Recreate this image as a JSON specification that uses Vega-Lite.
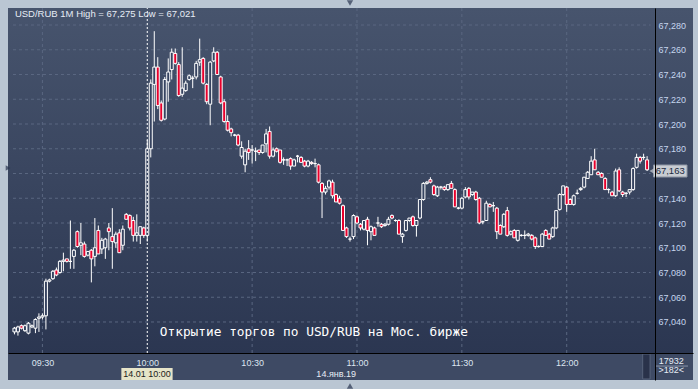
{
 "$schema": "https://vega.github.io/schema/vega-lite/v6.json",
 "width": 685, "height": 372,
 "autosize": {"type": "none"},
 "padding": {"left": 8, "top": 8, "right": 5, "bottom": 9},
 "background": "#bac6d3",
 "config": {
  "view": {"stroke": null, "fill": {"gradient": "linear", "x1": 0, "y1": 0, "x2": 0, "y2": 1, "stops": [{"offset": 0, "color": "#47546d"}, {"offset": 1, "color": "#29344f"}]}},
  "text": {"font": "Liberation Sans"}
 },
 "resolve": {"axis": {"x": "independent", "y": "independent"}},
 "data": {"name": "candles", "format": {"parse": {"t": "date:'%H:%M'"}}, "values": [
{"t":"09:22","o":67.032,"h":67.036,"l":67.030,"c":67.035},
{"t":"09:23","o":67.032,"h":67.037,"l":67.029,"c":67.036},
{"t":"09:24","o":67.037,"h":67.038,"l":67.034,"c":67.035},
{"t":"09:25","o":67.033,"h":67.038,"l":67.032,"c":67.037},
{"t":"09:26","o":67.031,"h":67.040,"l":67.030,"c":67.039},
{"t":"09:27","o":67.036,"h":67.038,"l":67.035,"c":67.037},
{"t":"09:28","o":67.035,"h":67.043,"l":67.031,"c":67.042},
{"t":"09:29","o":67.043,"h":67.047,"l":67.032,"c":67.044},
{"t":"09:30","o":67.044,"h":67.047,"l":67.042,"c":67.045},
{"t":"09:31","o":67.045,"h":67.075,"l":67.034,"c":67.073},
{"t":"09:32","o":67.073,"h":67.075,"l":67.072,"c":67.074},
{"t":"09:33","o":67.075,"h":67.082,"l":67.074,"c":67.081},
{"t":"09:34","o":67.082,"h":67.084,"l":67.077,"c":67.078},
{"t":"09:35","o":67.080,"h":67.090,"l":67.079,"c":67.089},
{"t":"09:36","o":67.089,"h":67.096,"l":67.081,"c":67.090},
{"t":"09:37","o":67.091,"h":67.091,"l":67.088,"c":67.089},
{"t":"09:38","o":67.089,"h":67.122,"l":67.083,"c":67.089},
{"t":"09:39","o":67.093,"h":67.099,"l":67.083,"c":67.098},
{"t":"09:40","o":67.113,"h":67.114,"l":67.100,"c":67.101},
{"t":"09:41","o":67.102,"h":67.120,"l":67.094,"c":67.104},
{"t":"09:42","o":67.103,"h":67.105,"l":67.092,"c":67.093},
{"t":"09:43","o":67.094,"h":67.097,"l":67.093,"c":67.097},
{"t":"09:44","o":67.098,"h":67.099,"l":67.072,"c":67.091},
{"t":"09:45","o":67.093,"h":67.124,"l":67.085,"c":67.100},
{"t":"09:46","o":67.114,"h":67.118,"l":67.095,"c":67.095},
{"t":"09:47","o":67.099,"h":67.108,"l":67.095,"c":67.106},
{"t":"09:48","o":67.100,"h":67.108,"l":67.091,"c":67.107},
{"t":"09:49","o":67.116,"h":67.120,"l":67.098,"c":67.113},
{"t":"09:50","o":67.109,"h":67.132,"l":67.083,"c":67.105},
{"t":"09:51","o":67.104,"h":67.113,"l":67.100,"c":67.111},
{"t":"09:52","o":67.112,"h":67.115,"l":67.096,"c":67.096},
{"t":"09:53","o":67.102,"h":67.118,"l":67.098,"c":67.115},
{"t":"09:54","o":67.127,"h":67.128,"l":67.123,"c":67.123},
{"t":"09:55","o":67.126,"h":67.127,"l":67.114,"c":67.116},
{"t":"09:56","o":67.122,"h":67.125,"l":67.105,"c":67.110},
{"t":"09:57","o":67.110,"h":67.127,"l":67.105,"c":67.112},
{"t":"09:58","o":67.110,"h":67.117,"l":67.103,"c":67.117},
{"t":"09:59","o":67.116,"h":67.117,"l":67.108,"c":67.110},
{"t":"10:00","o":67.110,"h":67.187,"l":67.105,"c":67.180},
{"t":"10:01","o":67.180,"h":67.236,"l":67.173,"c":67.233},
{"t":"10:02","o":67.232,"h":67.275,"l":67.202,"c":67.246},
{"t":"10:03","o":67.246,"h":67.254,"l":67.212,"c":67.215},
{"t":"10:04","o":67.217,"h":67.219,"l":67.202,"c":67.203},
{"t":"10:05","o":67.204,"h":67.238,"l":67.203,"c":67.236},
{"t":"10:06","o":67.234,"h":67.253,"l":67.218,"c":67.242},
{"t":"10:07","o":67.244,"h":67.261,"l":67.236,"c":67.258},
{"t":"10:08","o":67.257,"h":67.261,"l":67.248,"c":67.249},
{"t":"10:09","o":67.248,"h":67.250,"l":67.222,"c":67.223},
{"t":"10:10","o":67.224,"h":67.262,"l":67.222,"c":67.229},
{"t":"10:11","o":67.227,"h":67.235,"l":67.226,"c":67.233},
{"t":"10:12","o":67.236,"h":67.240,"l":67.235,"c":67.239},
{"t":"10:13","o":67.237,"h":67.239,"l":67.229,"c":67.237},
{"t":"10:14","o":67.238,"h":67.251,"l":67.236,"c":67.249},
{"t":"10:15","o":67.250,"h":67.269,"l":67.247,"c":67.252},
{"t":"10:16","o":67.253,"h":67.254,"l":67.232,"c":67.233},
{"t":"10:17","o":67.232,"h":67.233,"l":67.216,"c":67.218},
{"t":"10:18","o":67.216,"h":67.251,"l":67.199,"c":67.250},
{"t":"10:19","o":67.251,"h":67.262,"l":67.250,"c":67.258},
{"t":"10:20","o":67.258,"h":67.259,"l":67.240,"c":67.240},
{"t":"10:21","o":67.238,"h":67.239,"l":67.216,"c":67.217},
{"t":"10:22","o":67.218,"h":67.220,"l":67.201,"c":67.202},
{"t":"10:23","o":67.202,"h":67.207,"l":67.194,"c":67.195},
{"t":"10:24","o":67.196,"h":67.197,"l":67.190,"c":67.193},
{"t":"10:25","o":67.191,"h":67.192,"l":67.190,"c":67.191},
{"t":"10:26","o":67.191,"h":67.192,"l":67.182,"c":67.183},
{"t":"10:27","o":67.174,"h":67.186,"l":67.172,"c":67.181},
{"t":"10:28","o":67.167,"h":67.180,"l":67.161,"c":67.178},
{"t":"10:29","o":67.180,"h":67.187,"l":67.171,"c":67.177},
{"t":"10:30","o":67.179,"h":67.183,"l":67.168,"c":67.179},
{"t":"10:31","o":67.178,"h":67.181,"l":67.170,"c":67.178},
{"t":"10:32","o":67.179,"h":67.179,"l":67.175,"c":67.177},
{"t":"10:33","o":67.177,"h":67.183,"l":67.176,"c":67.183},
{"t":"10:34","o":67.184,"h":67.196,"l":67.177,"c":67.192},
{"t":"10:35","o":67.194,"h":67.198,"l":67.172,"c":67.174},
{"t":"10:36","o":67.174,"h":67.181,"l":67.173,"c":67.179},
{"t":"10:37","o":67.180,"h":67.181,"l":67.177,"c":67.178},
{"t":"10:38","o":67.179,"h":67.179,"l":67.168,"c":67.169},
{"t":"10:39","o":67.171,"h":67.173,"l":67.167,"c":67.171},
{"t":"10:40","o":67.171,"h":67.172,"l":67.166,"c":67.171},
{"t":"10:41","o":67.172,"h":67.173,"l":67.163,"c":67.166},
{"t":"10:42","o":67.166,"h":67.172,"l":67.166,"c":67.171},
{"t":"10:43","o":67.174,"h":67.175,"l":67.169,"c":67.174},
{"t":"10:44","o":67.173,"h":67.174,"l":67.169,"c":67.169},
{"t":"10:45","o":67.170,"h":67.171,"l":67.165,"c":67.166},
{"t":"10:46","o":67.166,"h":67.171,"l":67.165,"c":67.170},
{"t":"10:47","o":67.169,"h":67.170,"l":67.167,"c":67.168},
{"t":"10:48","o":67.168,"h":67.172,"l":67.165,"c":67.168},
{"t":"10:49","o":67.167,"h":67.168,"l":67.152,"c":67.153},
{"t":"10:50","o":67.152,"h":67.153,"l":67.124,"c":67.145},
{"t":"10:51","o":67.145,"h":67.150,"l":67.143,"c":67.148},
{"t":"10:52","o":67.149,"h":67.155,"l":67.147,"c":67.154},
{"t":"10:53","o":67.153,"h":67.155,"l":67.140,"c":67.142},
{"t":"10:54","o":67.143,"h":67.144,"l":67.137,"c":67.137},
{"t":"10:55","o":67.140,"h":67.142,"l":67.135,"c":67.136},
{"t":"10:56","o":67.134,"h":67.135,"l":67.114,"c":67.114},
{"t":"10:57","o":67.116,"h":67.117,"l":67.108,"c":67.109},
{"t":"10:58","o":67.107,"h":67.109,"l":67.105,"c":67.107},
{"t":"10:59","o":67.109,"h":67.127,"l":67.107,"c":67.126},
{"t":"11:00","o":67.125,"h":67.126,"l":67.119,"c":67.120},
{"t":"11:01","o":67.119,"h":67.120,"l":67.114,"c":67.116},
{"t":"11:02","o":67.115,"h":67.122,"l":67.114,"c":67.122},
{"t":"11:03","o":67.123,"h":67.125,"l":67.102,"c":67.114},
{"t":"11:04","o":67.113,"h":67.118,"l":67.106,"c":67.117},
{"t":"11:05","o":67.116,"h":67.117,"l":67.110,"c":67.110},
{"t":"11:06","o":67.120,"h":67.125,"l":67.117,"c":67.120},
{"t":"11:07","o":67.119,"h":67.120,"l":67.116,"c":67.117},
{"t":"11:08","o":67.118,"h":67.120,"l":67.117,"c":67.119},
{"t":"11:09","o":67.119,"h":67.125,"l":67.118,"c":67.123},
{"t":"11:10","o":67.126,"h":67.127,"l":67.123,"c":67.124},
{"t":"11:11","o":67.122,"h":67.123,"l":67.121,"c":67.122},
{"t":"11:12","o":67.122,"h":67.123,"l":67.111,"c":67.111},
{"t":"11:13","o":67.109,"h":67.112,"l":67.104,"c":67.111},
{"t":"11:14","o":67.114,"h":67.122,"l":67.113,"c":67.122},
{"t":"11:15","o":67.122,"h":67.124,"l":67.121,"c":67.124},
{"t":"11:16","o":67.125,"h":67.126,"l":67.117,"c":67.118},
{"t":"11:17","o":67.118,"h":67.122,"l":67.109,"c":67.122},
{"t":"11:18","o":67.124,"h":67.139,"l":67.123,"c":67.139},
{"t":"11:19","o":67.139,"h":67.153,"l":67.138,"c":67.152},
{"t":"11:20","o":67.152,"h":67.154,"l":67.151,"c":67.153},
{"t":"11:21","o":67.155,"h":67.157,"l":67.152,"c":67.153},
{"t":"11:22","o":67.150,"h":67.151,"l":67.142,"c":67.143},
{"t":"11:23","o":67.142,"h":67.150,"l":67.141,"c":67.149},
{"t":"11:24","o":67.149,"h":67.150,"l":67.147,"c":67.149},
{"t":"11:25","o":67.149,"h":67.150,"l":67.146,"c":67.147},
{"t":"11:26","o":67.147,"h":67.151,"l":67.146,"c":67.151},
{"t":"11:27","o":67.152,"h":67.154,"l":67.148,"c":67.148},
{"t":"11:28","o":67.147,"h":67.148,"l":67.133,"c":67.133},
{"t":"11:29","o":67.132,"h":67.133,"l":67.131,"c":67.132},
{"t":"11:30","o":67.132,"h":67.141,"l":67.131,"c":67.140},
{"t":"11:31","o":67.141,"h":67.149,"l":67.140,"c":67.147},
{"t":"11:32","o":67.148,"h":67.149,"l":67.139,"c":67.141},
{"t":"11:33","o":67.143,"h":67.145,"l":67.142,"c":67.145},
{"t":"11:34","o":67.145,"h":67.146,"l":67.138,"c":67.139},
{"t":"11:35","o":67.140,"h":67.141,"l":67.119,"c":67.120},
{"t":"11:36","o":67.121,"h":67.122,"l":67.119,"c":67.121},
{"t":"11:37","o":67.122,"h":67.138,"l":67.122,"c":67.136},
{"t":"11:38","o":67.135,"h":67.136,"l":67.133,"c":67.133},
{"t":"11:39","o":67.134,"h":67.137,"l":67.129,"c":67.134},
{"t":"11:40","o":67.132,"h":67.133,"l":67.107,"c":67.113},
{"t":"11:41","o":67.118,"h":67.119,"l":67.111,"c":67.111},
{"t":"11:42","o":67.117,"h":67.128,"l":67.116,"c":67.127},
{"t":"11:43","o":67.130,"h":67.133,"l":67.109,"c":67.110},
{"t":"11:44","o":67.111,"h":67.114,"l":67.110,"c":67.113},
{"t":"11:45","o":67.114,"h":67.115,"l":67.108,"c":67.108},
{"t":"11:46","o":67.106,"h":67.114,"l":67.105,"c":67.114},
{"t":"11:47","o":67.110,"h":67.111,"l":67.109,"c":67.110},
{"t":"11:48","o":67.110,"h":67.114,"l":67.107,"c":67.110},
{"t":"11:49","o":67.110,"h":67.112,"l":67.109,"c":67.111},
{"t":"11:50","o":67.110,"h":67.111,"l":67.106,"c":67.107},
{"t":"11:51","o":67.108,"h":67.109,"l":67.099,"c":67.101},
{"t":"11:52","o":67.101,"h":67.102,"l":67.100,"c":67.101},
{"t":"11:53","o":67.101,"h":67.112,"l":67.101,"c":67.111},
{"t":"11:54","o":67.114,"h":67.115,"l":67.110,"c":67.110},
{"t":"11:55","o":67.111,"h":67.112,"l":67.107,"c":67.107},
{"t":"11:56","o":67.109,"h":67.117,"l":67.108,"c":67.116},
{"t":"11:57","o":67.116,"h":67.130,"l":67.115,"c":67.130},
{"t":"11:58","o":67.131,"h":67.144,"l":67.130,"c":67.143},
{"t":"11:59","o":67.143,"h":67.150,"l":67.142,"c":67.150},
{"t":"12:00","o":67.149,"h":67.150,"l":67.129,"c":67.135},
{"t":"12:01","o":67.139,"h":67.140,"l":67.135,"c":67.135},
{"t":"12:02","o":67.135,"h":67.143,"l":67.134,"c":67.142},
{"t":"12:03","o":67.144,"h":67.147,"l":67.143,"c":67.144},
{"t":"12:04","o":67.147,"h":67.149,"l":67.146,"c":67.148},
{"t":"12:05","o":67.149,"h":67.157,"l":67.148,"c":67.157},
{"t":"12:06","o":67.156,"h":67.162,"l":67.156,"c":67.161},
{"t":"12:07","o":67.159,"h":67.174,"l":67.159,"c":67.170},
{"t":"12:08","o":67.171,"h":67.180,"l":67.163,"c":67.163},
{"t":"12:09","o":67.161,"h":67.162,"l":67.159,"c":67.159},
{"t":"12:10","o":67.160,"h":67.161,"l":67.157,"c":67.157},
{"t":"12:11","o":67.156,"h":67.157,"l":67.147,"c":67.147},
{"t":"12:12","o":67.147,"h":67.148,"l":67.144,"c":67.147},
{"t":"12:13","o":67.145,"h":67.146,"l":67.142,"c":67.142},
{"t":"12:14","o":67.142,"h":67.164,"l":67.141,"c":67.162},
{"t":"12:15","o":67.163,"h":67.165,"l":67.145,"c":67.146},
{"t":"12:16","o":67.145,"h":67.146,"l":67.141,"c":67.143},
{"t":"12:17","o":67.144,"h":67.145,"l":67.141,"c":67.144},
{"t":"12:18","o":67.145,"h":67.147,"l":67.143,"c":67.147},
{"t":"12:19","o":67.147,"h":67.165,"l":67.146,"c":67.164},
{"t":"12:20","o":67.165,"h":67.176,"l":67.164,"c":67.173},
{"t":"12:21","o":67.173,"h":67.174,"l":67.168,"c":67.170},
{"t":"12:22","o":67.173,"h":67.176,"l":67.171,"c":67.173},
{"t":"12:23","o":67.171,"h":67.174,"l":67.162,"c":67.163}
 ]},
 "layer": [
  {
   "data": {"values": [{}]},
   "mark": {"type": "rect", "color": "#3e4a64"},
   "encoding": {
    "y": {"datum": 67.01495, "type": "quantitative", "scale": {"domain": [66.99313, 67.29374], "zero": false, "nice": false}, "axis": null},
    "y2": {"datum": 66.99313}
   }
  },
  {
   "data": {"values": [{}]},
   "mark": {"type": "rect", "color": "#29324a", "stroke": "#56627a", "strokeWidth": 1},
   "encoding": {
    "x": {"datum": {"year": 1900, "month": 1, "date": 1, "hours": 12, "minutes": 21, "seconds": 44}, "type": "temporal", "scale": {"domain": [{"year": 1900, "month": 1, "date": 1, "hours": 9, "minutes": 21, "seconds": 35}, {"year": 1900, "month": 1, "date": 1, "hours": 12, "minutes": 34, "seconds": 42}]}, "axis": null},
    "x2": {"datum": {"year": 1900, "month": 1, "date": 1, "hours": 12, "minutes": 23, "seconds": 51}},
    "y": {"datum": 67.01414, "type": "quantitative", "scale": {"domain": [66.99313, 67.29374], "zero": false, "nice": false}, "axis": null},
    "y2": {"datum": 66.99394}
   }
  },
  {
   "data": {"values": [{"v":67.04},{"v":67.06},{"v":67.08},{"v":67.10},{"v":67.12},{"v":67.14},{"v":67.16},{"v":67.18},{"v":67.20},{"v":67.22},{"v":67.24},{"v":67.26},{"v":67.28}]},
   "mark": {"type": "rule", "color": "#5a6781", "strokeDash": [3, 3], "strokeWidth": 1},
   "encoding": {
    "y": {"field": "v", "type": "quantitative", "scale": {"domain": [66.99313, 67.29374], "zero": false, "nice": false}, "axis": null},
    "x": {"datum": {"year": 1900, "month": 1, "date": 1, "hours": 9, "minutes": 21, "seconds": 35}, "type": "temporal", "scale": {"domain": [{"year": 1900, "month": 1, "date": 1, "hours": 9, "minutes": 21, "seconds": 35}, {"year": 1900, "month": 1, "date": 1, "hours": 12, "minutes": 34, "seconds": 42}]}, "axis": null},
    "x2": {"datum": {"year": 1900, "month": 1, "date": 1, "hours": 12, "minutes": 24, "seconds": 0}}
   }
  },
  {
   "data": {"values": [{"g":"09:30"},{"g":"10:30"},{"g":"11:00"},{"g":"11:30"},{"g":"12:00"}], "format": {"parse": {"g": "date:'%H:%M'"}}},
   "mark": {"type": "rule", "color": "#5a6781", "strokeDash": [3, 3], "strokeWidth": 1},
   "encoding": {
    "x": {"field": "g", "type": "temporal", "scale": {"domain": [{"year": 1900, "month": 1, "date": 1, "hours": 9, "minutes": 21, "seconds": 35}, {"year": 1900, "month": 1, "date": 1, "hours": 12, "minutes": 34, "seconds": 42}]}, "axis": null},
    "y": {"datum": 67.01495, "type": "quantitative", "scale": {"domain": [66.99313, 67.29374], "zero": false, "nice": false}, "axis": null},
    "y2": {"datum": 67.29374}
   }
  },
  {
   "mark": {"type": "rule", "color": "#ffffff", "strokeWidth": 1},
   "encoding": {
    "x": {"field": "t", "type": "temporal", "scale": {"domain": [{"year": 1900, "month": 1, "date": 1, "hours": 9, "minutes": 21, "seconds": 35}, {"year": 1900, "month": 1, "date": 1, "hours": 12, "minutes": 34, "seconds": 42}]}, "axis": null},
    "y": {"field": "l", "type": "quantitative", "scale": {"domain": [66.99313, 67.29374], "zero": false, "nice": false}, "axis": null},
    "y2": {"field": "h"}
   }
  },
  {
   "mark": {"type": "bar", "width": 3, "stroke": "#ffffff", "strokeWidth": 1},
   "encoding": {
    "x": {"field": "t", "type": "temporal", "scale": {"domain": [{"year": 1900, "month": 1, "date": 1, "hours": 9, "minutes": 21, "seconds": 35}, {"year": 1900, "month": 1, "date": 1, "hours": 12, "minutes": 34, "seconds": 42}]},
      "axis": {"orient": "bottom", "offset": -27, "zindex": 2, "title": null, "grid": false, "ticks": false, "domainColor": "#000000", "domainWidth": 1, "format": "%H:%M", "labelAngle": 0, "labelFont": "Liberation Sans", "labelFontSize": 9, "labelColor": "#dde5f0", "labelPadding": 5, "labelFlush": false, "labelOverlap": false,
       "values": [{"year": 1900, "month": 1, "date": 1, "hours": 9, "minutes": 30}, {"year": 1900, "month": 1, "date": 1, "hours": 10, "minutes": 0}, {"year": 1900, "month": 1, "date": 1, "hours": 10, "minutes": 30}, {"year": 1900, "month": 1, "date": 1, "hours": 11, "minutes": 0}, {"year": 1900, "month": 1, "date": 1, "hours": 11, "minutes": 30}, {"year": 1900, "month": 1, "date": 1, "hours": 12, "minutes": 0}]}},
    "y": {"field": "o", "type": "quantitative", "scale": {"domain": [66.99313, 67.29374], "zero": false, "nice": false},
      "axis": {"orient": "right", "offset": -38, "zindex": 2, "title": null, "grid": false, "ticks": false, "domainColor": "#000000", "domainWidth": 1, "labelFont": "Liberation Sans", "labelFontSize": 9, "labelColor": "#c6d6ee", "labelPadding": 3, "labelOverlap": false, "labelFlush": false,
       "values": [67.04, 67.06, 67.08, 67.1, 67.12, 67.14, 67.18, 67.2, 67.22, 67.24, 67.26, 67.28],
       "labelExpr": "replace(format(datum.value, '.3f'), '.', ',')"}},
    "y2": {"field": "c"},
    "fill": {"condition": {"test": "datum.c < datum.o", "value": "#e8002c"}, "value": "#364360"}
   }
  },
  {
   "data": {"values": [{"g":"10:00"}], "format": {"parse": {"g": "date:'%H:%M'"}}},
   "mark": {"type": "rule", "color": "#ffffff", "strokeDash": [2, 2], "strokeWidth": 1},
   "encoding": {
    "x": {"field": "g", "type": "temporal", "scale": {"domain": [{"year": 1900, "month": 1, "date": 1, "hours": 9, "minutes": 21, "seconds": 35}, {"year": 1900, "month": 1, "date": 1, "hours": 12, "minutes": 34, "seconds": 42}]}, "axis": null},
    "y": {"datum": 67.01495, "type": "quantitative", "scale": {"domain": [66.99313, 67.29374], "zero": false, "nice": false}, "axis": null},
    "y2": {"datum": 67.29374}
   }
  },
  {
   "data": {"values": [{"label": "USD/RUB 1M High = 67,275 Low = 67,021"}]},
   "mark": {"type": "text", "align": "left", "baseline": "middle", "fontSize": 9.5, "color": "#e6ecf5"},
   "encoding": {
    "text": {"field": "label"},
    "x": {"datum": {"year": 1900, "month": 1, "date": 1, "hours": 9, "minutes": 22, "seconds": 8}, "type": "temporal", "axis": null},
    "y": {"datum": 67.2889, "type": "quantitative", "axis": null}
   }
  },
  {
   "data": {"values": [{"label": "Открытие торгов по USD/RUB на Мос. бирже"}]},
   "mark": {"type": "text", "align": "left", "baseline": "middle", "fontSize": 12.8, "font": "DejaVu Sans Mono", "color": "#ffffff"},
   "encoding": {
    "text": {"field": "label"},
    "x": {"datum": {"year": 1900, "month": 1, "date": 1, "hours": 10, "minutes": 3, "seconds": 35}, "type": "temporal", "axis": null},
    "y": {"datum": 67.03192, "type": "quantitative", "axis": null}
   }
  },
  {
   "data": {"values": [{}]},
   "mark": {"type": "rect", "color": "#e6e4c8"},
   "encoding": {
    "x": {"datum": {"year": 1900, "month": 1, "date": 1, "hours": 9, "minutes": 52, "seconds": 35}, "type": "temporal", "axis": null},
    "x2": {"datum": {"year": 1900, "month": 1, "date": 1, "hours": 10, "minutes": 7, "seconds": 15}},
    "y": {"datum": 67.00283, "type": "quantitative", "axis": null},
    "y2": {"datum": 66.99313}
   }
  },
  {
   "data": {"values": [{"label": "14.01 10:00"}]},
   "mark": {"type": "text", "align": "center", "baseline": "middle", "fontSize": 9, "color": "#1a1a1a"},
   "encoding": {
    "text": {"field": "label"},
    "x": {"datum": {"year": 1900, "month": 1, "date": 1, "hours": 9, "minutes": 59, "seconds": 55}, "type": "temporal", "axis": null},
    "y": {"datum": 66.99777, "type": "quantitative", "axis": null}
   }
  },
  {
   "data": {"values": [{"label": "14.янв.19"}]},
   "mark": {"type": "text", "align": "center", "baseline": "middle", "fontSize": 9, "color": "#e6ecf5"},
   "encoding": {
    "text": {"field": "label"},
    "x": {"datum": {"year": 1900, "month": 1, "date": 1, "hours": 10, "minutes": 54, "seconds": 3}, "type": "temporal", "axis": null},
    "y": {"datum": 66.99777, "type": "quantitative", "axis": null}
   }
  },
  {
   "data": {"values": [{}]},
   "mark": {"type": "rule", "color": "#8a96aa", "strokeWidth": 1},
   "encoding": {
    "x": {"datum": {"year": 1900, "month": 1, "date": 1, "hours": 12, "minutes": 25, "seconds": 30}, "type": "temporal", "axis": null},
    "x2": {"datum": {"year": 1900, "month": 1, "date": 1, "hours": 12, "minutes": 34, "seconds": 42}},
    "y": {"datum": 67.0044, "type": "quantitative", "axis": null}
   }
  },
  {
   "data": {"values": [{"label": "17932", "v": 67.0085}, {"label": ">182<", "v": 67.0012}]},
   "mark": {"type": "text", "align": "center", "baseline": "middle", "fontSize": 9, "color": "#e6ecf5"},
   "encoding": {
    "text": {"field": "label"},
    "x": {"datum": {"year": 1900, "month": 1, "date": 1, "hours": 12, "minutes": 29, "seconds": 55}, "type": "temporal", "axis": null},
    "y": {"field": "v", "type": "quantitative", "axis": null}
   }
  },
  {
   "data": {"values": [{}]},
   "mark": {"type": "rect", "color": "#c8ccd2", "stroke": "#8c95a3", "strokeWidth": 1},
   "encoding": {
    "x": {"datum": {"year": 1900, "month": 1, "date": 1, "hours": 12, "minutes": 24, "seconds": 50}, "type": "temporal", "axis": null},
    "x2": {"datum": {"year": 1900, "month": 1, "date": 1, "hours": 12, "minutes": 34, "seconds": 25}},
    "y": {"datum": 67.16687, "type": "quantitative", "axis": null},
    "y2": {"datum": 67.15717}
   }
  },
  {
   "data": {"values": [{"label": "67,163"}]},
   "mark": {"type": "text", "align": "center", "baseline": "middle", "fontSize": 9.5, "color": "#1c2a40"},
   "encoding": {
    "text": {"field": "label"},
    "x": {"datum": {"year": 1900, "month": 1, "date": 1, "hours": 12, "minutes": 29, "seconds": 36}, "type": "temporal", "axis": null},
    "y": {"datum": 67.16202, "type": "quantitative", "axis": null}
   }
  },
  {
   "data": {"values": [{}]},
   "mark": {"type": "point", "shape": "triangle-left", "filled": true, "size": 30, "color": "#c8ccd2"},
   "encoding": {
    "x": {"datum": {"year": 1900, "month": 1, "date": 1, "hours": 12, "minutes": 24, "seconds": 20}, "type": "temporal", "axis": null},
    "y": {"datum": 67.16202, "type": "quantitative", "axis": null}
   }
  },
  {
   "data": {"values": [{"s": "triangle-down", "v": 67.2978}, {"s": "triangle-up", "v": 66.9883}]},
   "mark": {"type": "point", "filled": true, "size": 40, "color": "#2a3550"},
   "encoding": {
    "shape": {"field": "s", "type": "nominal", "scale": null, "legend": null},
    "x": {"datum": {"year": 1900, "month": 1, "date": 1, "hours": 10, "minutes": 58, "seconds": 0}, "type": "temporal", "axis": null},
    "y": {"field": "v", "type": "quantitative", "axis": null}
   }
  },
  {
   "data": {"values": [{}]},
   "mark": {"type": "point", "shape": "triangle-right", "filled": true, "size": 30, "color": "#2a3550"},
   "encoding": {
    "x": {"datum": {"year": 1900, "month": 1, "date": 1, "hours": 9, "minutes": 20, "seconds": 10}, "type": "temporal", "axis": null},
    "y": {"datum": 67.16444, "type": "quantitative", "axis": null}
   }
  }
 ]
}
